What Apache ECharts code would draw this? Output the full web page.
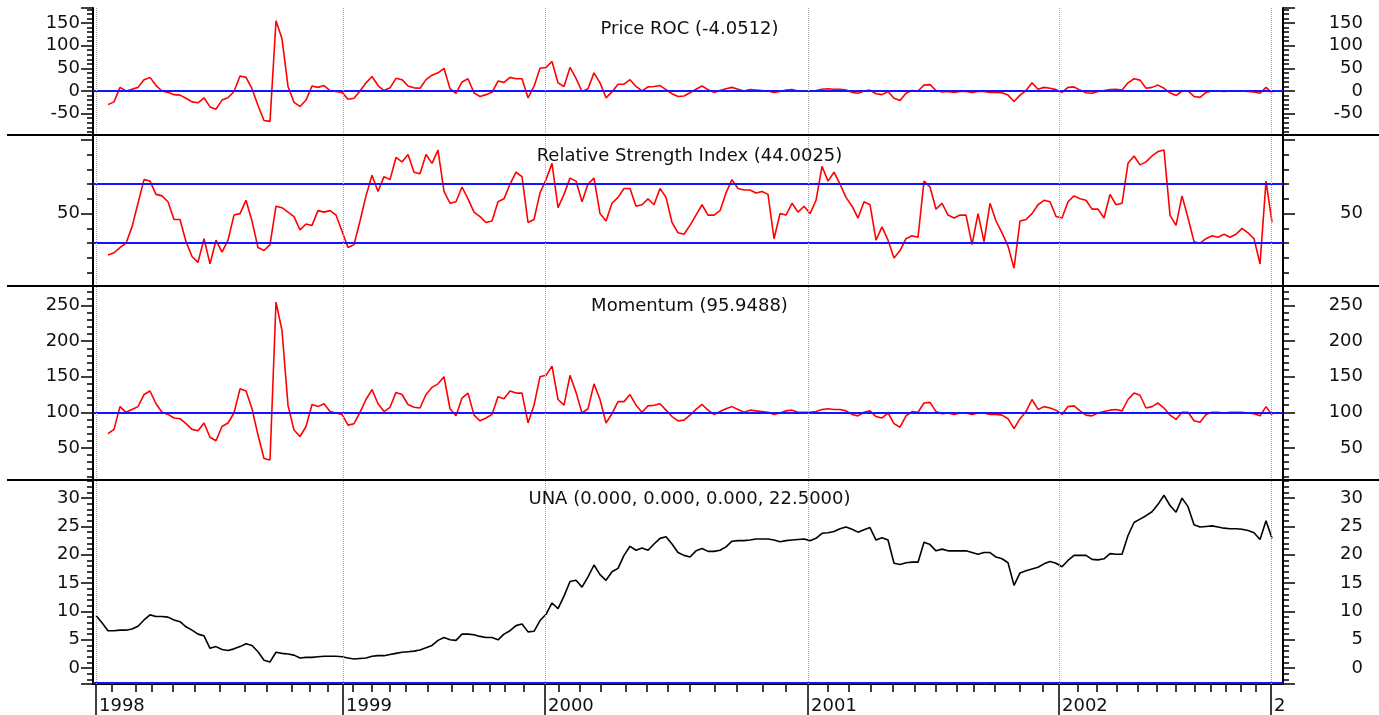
<!DOCTYPE html>
<html>

<head>
    <meta charset="utf-8">
    <title>UNA - Price ROC / RSI / Momentum</title>
    <script src="https://cdn.jsdelivr.net/npm/echarts@6/dist/echarts.min.js"></script>
    <style>
        html, body { margin: 0; padding: 0; background: #fff; }
        #main { width: 1379px; height: 715px; }
    </style>
</head>

<body>
    <div id="main"></div>
    <script type="text/javascript">
        // one reading per sample step along the time axis (index 0 = start of 1998)
        var roc = [null, null, -30, -24, 8, 0, 4, 8, 25, 30,
            12, 0, -3, -8, -9, -16, -24, -26, -15, -35,
            -40, -20, -15, -1, 33, 30, 5, -32, -65, -67,
            155, 115, 10, -25, -34, -20, 11, 8, 12, 1,
            -1, -3, -18, -16, 0, 18, 32, 12, 1, 7,
            28, 25, 11, 7, 6, 25, 35, 40, 50, 5,
            -5, 20, 27, -4, -12, -8, -3, 22, 19, 30,
            27, 27, -15, 10, 50, 52, 65, 18, 10, 52,
            28, -1, 5, 40, 18, -15, -2, 15, 15, 25,
            10, 0, 9, 10, 12, 3, -6, -12, -11, -4,
            4, 11, 3, -3, 1, 5, 8, 4, 0, 3,
            2, 1, 0, -3, -1, 2, 3, 0, 0, 0,
            1, 4, 5, 4, 4, 2, -3, -5, 0, 2,
            -6, -8, -1, -16, -21, -5, 1, 0, 13, 14,
            1, -2, -1, -3, -1, -1, -3, -1, -1, -3,
            -3, -4, -9, -23, -9, 1, 18, 4, 8, 6,
            3, -3, 8, 9, 2, -4, -5, -1, 1, 3,
            4, 2, 18, 27, 24, 6, 8, 13, 6, -4,
            -10, 0, 0, -12, -14, -3, 0, 0, -1, 0,
            0, 0, -1, -2, -5, 8, -4];

        var rsi = [null, null, 22, 23.5, 27, 30, 41, 57, 73, 72,
            63, 62, 58, 46, 46, 31, 21, 17, 33, 16,
            32, 24, 32, 49, 50, 59, 45, 27, 25, 29,
            55, 54, 51, 48, 39, 43, 42, 52, 51, 52,
            49, 38, 27, 29, 45, 62, 76, 65, 75, 73,
            88, 85, 90, 78, 77, 90, 84, 93, 65, 57,
            58, 68, 60, 51, 48, 44, 45, 58, 60, 70,
            78, 75, 44, 46, 64, 73, 84, 54, 63, 74,
            72, 58, 70, 74, 50, 45, 57, 61, 67, 67,
            55, 56, 60, 56, 67, 61, 44, 37, 36, 42,
            49, 56, 49, 49, 52, 64, 73, 67, 66, 66,
            64, 65, 63, 33, 50, 49, 57, 51, 55, 50,
            59, 82, 72, 78, 70, 61, 55, 47, 58, 56,
            32, 41, 32, 20, 25, 33, 35, 34, 72, 68,
            53, 57, 49, 47, 49, 49, 29, 50, 31, 57,
            45, 37, 28, 13, 45, 46, 50, 56, 59, 58,
            48, 47, 58, 62, 60, 59, 53, 53, 47, 63,
            56, 57, 84, 89, 83, 85, 89, 92, 93, 49,
            42, 62, 47, 31, 30, 33, 35, 34, 36, 34,
            36, 40, 37, 33, 16, 72, 44];

        var momentum = [null, null, 70, 76, 108, 100, 104, 108, 125, 130,
            112, 100, 97, 92, 91, 84, 76, 74, 85, 65,
            60, 80, 85, 99, 133, 130, 105, 68, 35, 33,
            255, 215, 110, 75, 66, 80, 111, 108, 112, 101,
            99, 97, 82, 84, 100, 118, 132, 112, 101, 107,
            128, 125, 111, 107, 106, 125, 135, 140, 150, 105,
            95, 120, 127, 96, 88, 92, 97, 122, 119, 130,
            127, 127, 85, 110, 150, 152, 165, 118, 110, 152,
            128, 99, 105, 140, 118, 85, 98, 115, 115, 125,
            110, 100, 109, 110, 112, 103, 94, 88, 89, 96,
            104, 111, 103, 97, 101, 105, 108, 104, 100, 103,
            102, 101, 100, 97, 99, 102, 103, 100, 100, 100,
            101, 104, 105, 104, 104, 102, 97, 95, 100, 102,
            94, 92, 99, 84, 79, 95, 101, 100, 113, 114,
            101, 98, 99, 97, 99, 99, 97, 99, 99, 97,
            97, 96, 91, 77, 91, 101, 118, 104, 108, 106,
            103, 97, 108, 109, 102, 96, 95, 99, 101, 103,
            104, 102, 118, 127, 124, 106, 108, 113, 106, 96,
            90, 100, 100, 88, 86, 97, 100, 100, 99, 100,
            100, 100, 99, 98, 95, 108, 96];

        var una = [9.3, 8.0, 6.6, 6.6, 6.7, 6.7, 6.9, 7.4, 8.5, 9.4,
            9.1, 9.1, 9.0, 8.5, 8.2, 7.3, 6.7, 6.0, 5.7, 3.5,
            3.8, 3.3, 3.1, 3.4, 3.8, 4.3, 4.0, 2.9, 1.4, 1.1,
            2.8, 2.6, 2.5, 2.3, 1.8, 1.9, 1.9, 2.0, 2.1, 2.1,
            2.1, 2.0, 1.8, 1.6, 1.7, 1.8, 2.1, 2.2, 2.2, 2.4,
            2.6, 2.8, 2.9, 3.0, 3.2, 3.6, 4.0, 4.9, 5.4, 5.0,
            4.9, 6.0, 6.0, 5.9, 5.6, 5.4, 5.4, 5.0, 6.0, 6.6,
            7.5, 7.8, 6.4, 6.5, 8.4, 9.5, 11.5, 10.5, 12.7, 15.3,
            15.5, 14.3, 16.1, 18.2, 16.5, 15.5, 17.0, 17.6, 19.9, 21.5,
            20.8, 21.2, 20.8, 21.9, 22.9, 23.2, 21.9, 20.4, 19.9, 19.6,
            20.7, 21.1, 20.6, 20.6, 20.8, 21.4, 22.4, 22.5, 22.5, 22.6,
            22.8, 22.8, 22.8, 22.6, 22.3, 22.5, 22.6, 22.7, 22.8, 22.5,
            22.9, 23.8, 23.9, 24.1, 24.6, 24.9, 24.5, 24.0, 24.4, 24.8,
            22.6, 23.0, 22.6, 18.5, 18.3, 18.6, 18.7, 18.7, 22.2, 21.8,
            20.7, 21.0, 20.7, 20.7, 20.7, 20.7, 20.4, 20.1, 20.4, 20.4,
            19.6, 19.3, 18.6, 14.6, 16.8, 17.2, 17.5, 17.8, 18.4, 18.8,
            18.5, 17.9, 19.0, 19.9, 19.9, 19.9, 19.2, 19.1, 19.3, 20.2,
            20.1, 20.1, 23.4, 25.7, 26.3, 26.9, 27.6, 28.9, 30.5, 28.7,
            27.5, 30.0, 28.5, 25.3, 24.9, 25.0, 25.1, 24.9, 24.7, 24.6,
            24.6, 24.5, 24.3, 23.9, 22.7, 26.0, 22.9];

        // time axis: year starts and month ticks, in sample units
        var yearNames = ['1998', '1999', '2000', '2001', '2002', '2'];
        var yearPos = [0, 41.17, 74.83, 118.67, 160.5, 195.83];
        var monthPos = [2.67, 6.67, 9.33, 12.83, 16.5, 20.67, 24.83, 28.5, 32.67, 35.67, 38.67,
            42.83, 46, 49, 51.67, 55.33, 59.33, 62.83, 65.67, 68.17, 71.33,
            77.17, 80.67, 84.17, 88.33, 91.83, 95.33, 99, 103.17, 106.83, 111.17, 115,
            122, 125.5, 129.17, 132.83, 136.5, 140, 143.5, 146.33, 149.83, 154, 157.83,
            163.67, 166.83, 170.17, 173.67, 176.83, 180, 183.17, 185.83, 188.33, 190.83, 193.33];

        // value-axis labels of each panel
        var rocLabels = [-50, 0, 50, 100, 150];
        var rsiLabels = [50];
        var momLabels = [50, 100, 150, 200, 250];
        var unaLabels = [0, 5, 10, 15, 20, 25, 30];

        // reference levels
        var rocLevels = [0];
        var rsiLevels = [30, 70];
        var momLevels = [100];
        var unaLevels = [-2.5];

        var titles = ['Price ROC (-4.0512)', 'Relative Strength Index (44.0025)',
            'Momentum (95.9488)', 'UNA (0.000, 0.000, 0.000, 22.5000)'];

        var FONT = 'DejaVu Sans';
        var X_MIN = -0.5, X_MAX = 197.83;

        var panels = [
            { top: 8, height: 127, min: -97, max: 183, step: 50, labels: rocLabels },
            { top: 135, height: 151, min: 1, max: 103.2, step: 50, labels: rsiLabels },
            { top: 286, height: 194, min: 4.8, max: 277.6, step: 50, labels: momLabels },
            { top: 480, height: 204, min: -2.8, max: 33.2, step: 5, labels: unaLabels }
        ];
        var titleTops = [20, 147, 297, 490];

        function pairs(arr) {
            var out = [];
            arr.forEach(function (v, i) {
                if (v !== null) out.push([i, v]);
            });
            return out;
        }

        function yAxisFor(g, side) {
            var p = panels[g];
            return {
                type: 'value', gridIndex: g, position: side,
                min: p.min, max: p.max, minInterval: p.step, maxInterval: p.step,
                axisLine: { show: true, onZero: false, lineStyle: { color: '#000', width: 2 } },
                axisTick: { show: true, length: 12, lineStyle: { color: '#000', width: 1.5 } },
                minorTick: { show: true, splitNumber: 5, length: 6, lineStyle: { color: '#000', width: 1.5 } },
                splitLine: { show: false },
                minorSplitLine: { show: false },
                axisLabel: {
                    show: true, customValues: p.labels,
                    margin: side === 'left' ? 13 : 80, align: 'right',
                    fontFamily: FONT, fontSize: 18, color: '#111'
                }
            };
        }

        function guides(levels) {
            var data = levels.map(function (v) {
                return { yAxis: v, lineStyle: { color: '#1414ff', width: 2, type: 'solid' } };
            });
            yearPos.forEach(function (x) {
                data.push({ xAxis: x, lineStyle: { color: '#a8a8a8', width: 1, type: 'dotted' } });
            });
            return { silent: true, symbol: 'none', label: { show: false }, animation: false, data: data };
        }

        var grids = [], xAxes = [], yAxes = [];
        panels.forEach(function (p, g) {
            grids.push({ left: 93, right: 96, top: p.top, height: p.height });
            xAxes.push({
                type: 'value', gridIndex: g, min: X_MIN, max: X_MAX, position: 'bottom',
                show: g === 3,
                axisLine: { show: true, onZero: false, lineStyle: { color: '#000', width: 1 } },
                axisTick: { show: true, customValues: monthPos, length: 8, lineStyle: { color: '#000', width: 1.5 } },
                axisLabel: { show: false },
                splitLine: { show: false }
            });
            yAxes.push(yAxisFor(g, 'left'));
            yAxes.push(yAxisFor(g, 'right'));
        });
        // year ticks and labels under the last panel
        xAxes.push({
            type: 'value', gridIndex: 3, min: X_MIN, max: X_MAX, position: 'bottom',
            axisLine: { show: false, onZero: false },
            axisTick: { show: true, customValues: yearPos, length: 31, lineStyle: { color: '#000', width: 1.5 } },
            axisLabel: {
                show: true, customValues: yearPos, align: 'left', margin: 13, padding: [0, 0, 0, 3],
                fontFamily: FONT, fontSize: 18, color: '#111',
                formatter: function (v) {
                    var k = 0;
                    yearPos.forEach(function (y, i) { if (Math.abs(y - v) < Math.abs(yearPos[k] - v)) k = i; });
                    return yearNames[k];
                }
            },
            splitLine: { show: false }
        });

        function lineSeries(g, arr, color, levels) {
            return {
                type: 'line', xAxisIndex: g, yAxisIndex: g * 2, data: pairs(arr),
                showSymbol: false, symbol: 'none',
                lineStyle: { color: color, width: 1.6 },
                itemStyle: { color: color },
                markLine: guides(levels),
                z: 3
            };
        }

        var myChart = echarts.init(document.getElementById('main'));
        var option = {
            animation: false,
            backgroundColor: '#fff',
            title: titles.map(function (t, i) {
                return {
                    text: t, left: 'center', top: titleTops[i], padding: 0,
                    textStyle: { fontFamily: FONT, fontSize: 18, fontWeight: 'normal', color: '#111' }
                };
            }),
            grid: grids,
            xAxis: xAxes,
            yAxis: yAxes,
            series: [
                lineSeries(0, roc, '#ff0000', rocLevels),
                lineSeries(1, rsi, '#ff0000', rsiLevels),
                lineSeries(2, momentum, '#ff0000', momLevels),
                lineSeries(3, una, '#000000', unaLevels)
            ],
            graphic: [135, 286, 480].map(function (y) {
                return {
                    type: 'line', silent: true, z: 100,
                    shape: { x1: 7, y1: y, x2: 1379, y2: y },
                    style: { stroke: '#000', lineWidth: 2 }
                };
            })
        };
        myChart.setOption(option);
    </script>
</body>

</html>
